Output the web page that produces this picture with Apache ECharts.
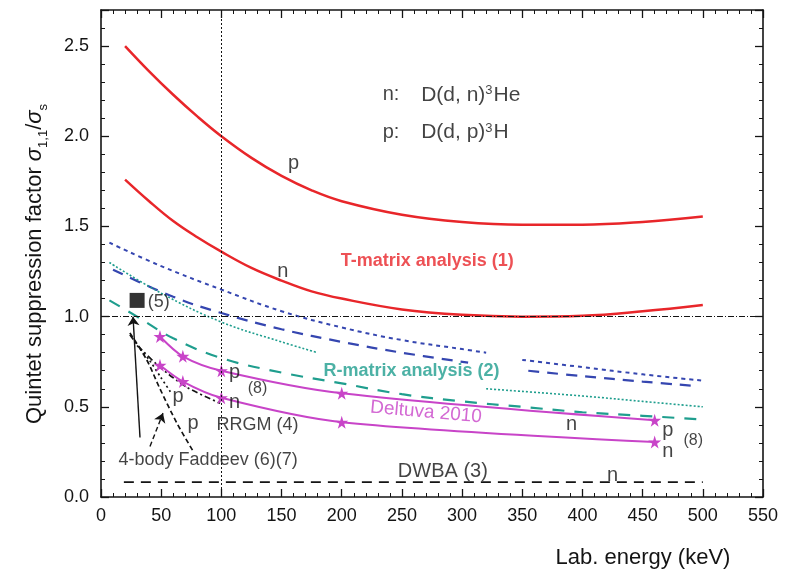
<!DOCTYPE html>
<html>
<head>
<meta charset="utf-8">
<script src="https://cdn.jsdelivr.net/npm/echarts@6/dist/echarts.min.js"></script>
<style>
html, body { margin: 0; padding: 0; background: #fff; }
#chart { width: 789px; height: 572px; }
</style>
</head>
<body>
<div id="chart"></div>
<script>
// T-matrix analysis (1)
var tmatP = [[20,2.50],[40,2.36],[60,2.23],[80,2.11],[100,2.00],[125,1.88],[150,1.78],[175,1.70],[200,1.64],[250,1.565],[300,1.525],[350,1.51],[400,1.51],[450,1.525],[500,1.555]];
var tmatN = [[20,1.76],[40,1.64],[60,1.53],[80,1.44],[100,1.36],[125,1.27],[150,1.20],[175,1.14],[200,1.10],[250,1.04],[300,1.01],[350,1.0],[400,1.005],[450,1.03],[500,1.065]];

// R-matrix analysis (2), two pieces each for the blue and dotted curves
var rmBlueShortA = [[7,1.41],[50,1.28],[100,1.15],[150,1.03],[200,0.94],[250,0.87],[300,0.82],[320,0.80]];
var rmBlueShortB = [[350,0.76],[400,0.72],[450,0.68],[500,0.645]];
var rmBlueLongA = [[10,1.26],[60,1.11],[100,1.02],[150,0.93],[200,0.86],[250,0.80],[305,0.745]];
var rmBlueLongB = [[355,0.70],[400,0.67],[450,0.64],[495,0.615]];
var rmTealDotA = [[7,1.30],[50,1.13],[100,0.97],[150,0.86],[180,0.80]];
var rmTealDotB = [[320,0.60],[400,0.56],[450,0.53],[500,0.50]];
var rmTealLong = [[7,1.09],[30,1.0],[60,0.88],[100,0.77],[150,0.69],[200,0.63],[250,0.57],[300,0.53],[350,0.50],[400,0.47],[450,0.45],[500,0.43]];

// Deltuva 2010 (8)
var deltP = [[49,0.89],[68,0.78],[100,0.70],[200,0.575],[460,0.425]];
var deltN = [[49,0.73],[68,0.64],[100,0.55],[200,0.415],[460,0.305]];

// 4-body Faddeev (6)(7) and RRGM (4)
var faddP = [[24,0.91],[38,0.76],[49,0.60],[63,0.41],[76,0.26]];
var rrgmN = [[24,0.90],[32,0.83],[49,0.72],[71,0.61],[99,0.52]];
var rrgmP = [[30,0.84],[40,0.76],[50,0.66],[58,0.58]];

// DWBA (3) and point (5)
var dwba = [[19,0.083],[500,0.083]];
var point5 = [[30,1.09]];

// arrows of the annotation
var arrowSolid = [[32.4,0.33],[26.6,1.0]];
var arrowDash = [[40.7,0.28],[51.5,0.465]];

// texts inside the plot: x, y, text, kind
var notes = [
  [160, 1.85, 'p', 'k'],
  [151, 1.25, 'n', 'k'],
  [271, 1.31, 'T-matrix analysis (1)', 'red'],
  [258, 0.70, 'R-matrix analysis (2)', 'teal'],
  [270, 0.47, 'Deltuva 2010', 'mag'],
  [111, 0.69, 'p', 'k'],
  [130, 0.60, '(8)', 'ks'],
  [111, 0.525, 'n', 'k'],
  [64, 0.555, 'p', 'k'],
  [76.5, 0.41, 'p', 'k'],
  [130, 0.40, 'RRGM (4)', 'k18'],
  [89, 0.205, '4-body Faddeev (6)(7)', 'k18'],
  [48, 1.08, '(5)', 'k18'],
  [284, 0.14, 'DWBA (3)', 'k'],
  [425, 0.12, 'n', 'k'],
  [391, 0.40, 'n', 'k'],
  [471, 0.37, 'p', 'k'],
  [471, 0.25, 'n', 'k'],
  [492, 0.31, '(8)', 'ks']
];
var legendRows = [
  [234, 2.23, 'n:', 'D(d, n){s|3}He'],
  [234, 2.02, 'p:', 'D(d, p){s|3}H']
];

var FONT = 'Liberation Sans';
var RED = '#e8262a', BLUE = '#3546b0', TEAL = '#1f9e8e', MAG = '#c844c8', BLK = '#141414';
var star = 'path://M50,0 L61,35 L98,35 L68,57 L79,91 L50,70 L21,91 L32,57 L2,35 L39,35 Z';

function curve(data, color, width, type, smooth) {
  return {
    type: 'line', data: data, showSymbol: false, smooth: smooth === undefined ? 0.4 : smooth,
    lineStyle: { color: color, width: width, type: type }, z: 3
  };
}

var noteStyle = {
  k: { color: BLK, fontSize: 20 },
  k18: { color: BLK, fontSize: 18 },
  ks: { color: BLK, fontSize: 16 },
  red: { color: RED, fontSize: 18, fontWeight: 'bold' },
  teal: { color: TEAL, fontSize: 18, fontWeight: 'bold' },
  mag: { color: MAG, fontSize: 19, rotate: -5 }
};

var noteData = notes.map(function (n) {
  var st = noteStyle[n[3]];
  return {
    value: [n[0], n[1]],
    label: Object.assign({ show: true, position: 'inside', formatter: n[2], fontFamily: FONT }, st)
  };
});
legendRows.forEach(function (r) {
  noteData.push({ value: [r[0], r[1]], label: { show: true, position: 'inside', align: 'left', formatter: r[2], color: BLK, fontSize: 20, fontFamily: FONT } });
  noteData.push({ value: [r[0] + 32, r[1]], label: {
    show: true, position: 'inside', align: 'left', formatter: r[3], color: BLK, fontSize: 21, fontFamily: FONT,
    rich: { s: { fontSize: 13, verticalAlign: 'top', fontFamily: FONT, color: BLK, padding: [0, 1, 0, 0] } }
  } });
});

function axisParts() {
  return {
    axisLine: { show: true, onZero: false, lineStyle: { color: BLK, width: 1.6 } },
    axisTick: { show: true, inside: true, length: 8, lineStyle: { color: BLK, width: 1.3 } },
    minorTick: { show: true, splitNumber: 5, length: 4, lineStyle: { color: BLK, width: 1 } },
    splitLine: { show: false }
  };
}

var chart = echarts.init(document.getElementById('chart'));
var option = {
  animation: false,
  backgroundColor: '#fff',
  grid: { left: 101, right: 26, top: 10, bottom: 75 },
  xAxis: [
    Object.assign(axisParts(), { type: 'value', min: 0, max: 550, interval: 50, position: 'bottom',
      axisLabel: { color: BLK, fontSize: 18, fontFamily: FONT, margin: 10 } }),
    Object.assign(axisParts(), { type: 'value', min: 0, max: 550, interval: 50, position: 'top', axisLabel: { show: false } })
  ],
  yAxis: [
    Object.assign(axisParts(), { type: 'value', min: 0, max: 2.7, interval: 0.5, position: 'left',
      axisLabel: { color: BLK, fontSize: 18, fontFamily: FONT, margin: 12, showMaxLabel: false,
        formatter: function (v) { return v.toFixed(1); } } }),
    Object.assign(axisParts(), { type: 'value', min: 0, max: 2.7, interval: 0.5, position: 'right', axisLabel: { show: false } })
  ],
  graphic: [
    { type: 'text', x: 643, y: 558, style: { text: 'Lab. energy (keV)', fill: BLK, fontSize: 22, fontFamily: FONT, align: 'center', verticalAlign: 'middle' } },
    { type: 'text', x: 35, y: 264, rotation: Math.PI / 2,
      style: { text: 'Quintet suppression factor {i|σ}{b|1,1}/{i|σ}{b|s}', fill: BLK, fontSize: 22, fontFamily: FONT, align: 'center', verticalAlign: 'middle',
        rich: { i: { fontSize: 22, fontStyle: 'italic', fontFamily: FONT, fill: BLK, lineHeight: 30 },
                b: { fontSize: 13, fontFamily: FONT, fill: BLK, verticalAlign: 'bottom', lineHeight: 30 } } } }
  ],
  series: [
    Object.assign(curve(tmatP, RED, 2.5), {
      markLine: {
        silent: true, symbol: 'none', label: { show: false },
        data: [
          { xAxis: 100, lineStyle: { color: BLK, width: 1, type: [2, 2] } },
          { yAxis: 1.0, lineStyle: { color: BLK, width: 1.2, type: [6, 2, 1, 2] } }
        ]
      }
    }),
    curve(tmatN, RED, 2.5),
    curve(rmBlueShortA, BLUE, 2, [4, 4]),
    curve(rmBlueShortB, BLUE, 2, [4, 4]),
    curve(rmBlueLongA, BLUE, 2.2, [11, 8]),
    curve(rmBlueLongB, BLUE, 2.2, [11, 8]),
    curve(rmTealDotA, TEAL, 1.6, [2, 2]),
    curve(rmTealDotB, TEAL, 1.6, [2, 2]),
    curve(rmTealLong, TEAL, 2.2, [12, 10]),
    {
      type: 'line', data: deltP, smooth: 0.3, symbol: star, symbolSize: 13, showAllSymbol: true,
      lineStyle: { color: MAG, width: 2 }, itemStyle: { color: MAG }, z: 4
    },
    {
      type: 'line', data: deltN, smooth: 0.3, symbol: star, symbolSize: 13, showAllSymbol: true,
      lineStyle: { color: MAG, width: 2 }, itemStyle: { color: MAG }, z: 4
    },
    curve(faddP, BLK, 1.7, [5, 3], 0.3),
    curve(rrgmN, BLK, 1.7, [6, 3, 2, 3], 0.3),
    curve(rrgmP, BLK, 1.7, [2, 3], 0.3),
    Object.assign(curve(dwba, BLK, 1.7, [10, 7], false), {
      markLine: {
        silent: true, label: { show: false }, symbol: ['none', 'arrow'], symbolSize: 9,
        data: [
          [{ coord: arrowSolid[0], lineStyle: { color: BLK, width: 1.4, type: 'solid' } }, { coord: arrowSolid[1] }],
          [{ coord: arrowDash[0], lineStyle: { color: BLK, width: 1.4, type: [5, 3] } }, { coord: arrowDash[1] }]
        ]
      }
    }),
    {
      type: 'scatter', data: point5, symbol: 'rect', symbolSize: 15,
      itemStyle: { color: '#000' }, z: 5
    },
    {
      type: 'scatter', data: noteData, symbolSize: 1, silent: true,
      itemStyle: { color: 'rgba(0,0,0,0)' }, z: 6
    }
  ]
};
chart.setOption(option);
</script>
</body>
</html>
